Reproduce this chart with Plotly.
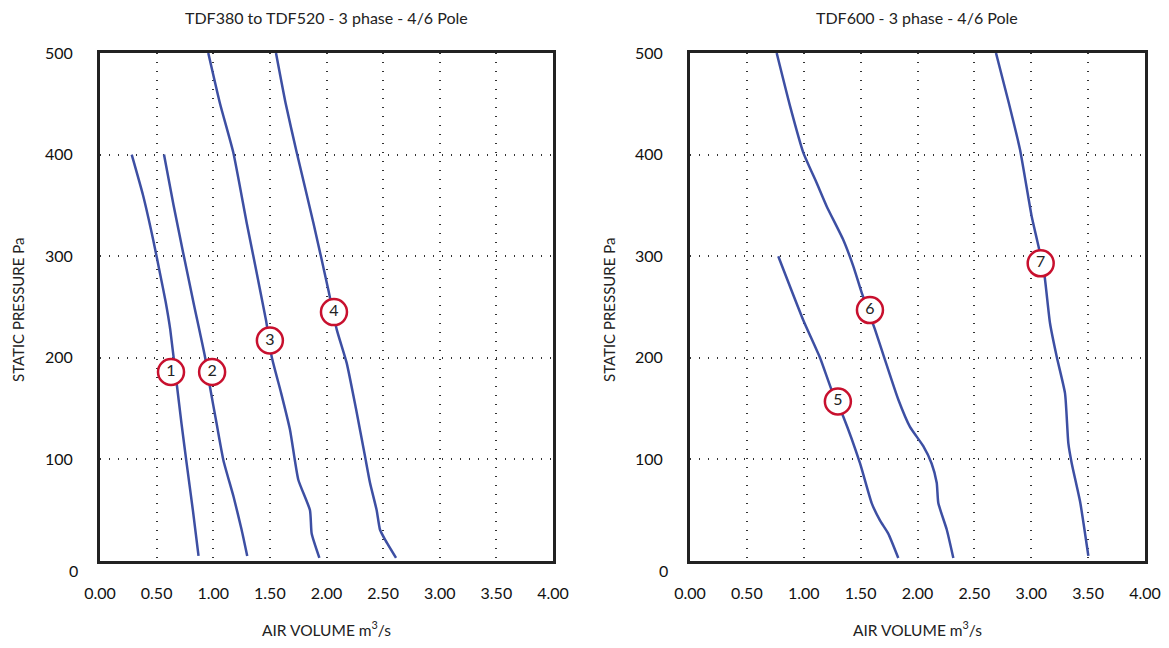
import plotly.graph_objects as go

# ---- data ----
x_ticks = [0, 0.5, 1.0, 1.5, 2.0, 2.5, 3.0, 3.5, 4.0]
x_tick_labels = ["0.00", "0.50", "1.00", "1.50", "2.00", "2.50", "3.00", "3.50", "4.00"]
y_ticks = [100, 200, 300, 400, 500]
y_tick_labels = ["100", "200", "300", "400", "500"]

# Left chart: TDF380 to TDF520
c1_x = [0.28, 0.38, 0.47, 0.53, 0.58, 0.62, 0.68, 0.72, 0.765, 0.82, 0.87]
c1_y = [400, 360, 316, 283, 255, 228, 172, 135, 96, 50, 5]

c2_x = [0.565, 0.65, 0.735, 0.83, 0.927, 0.97, 1.03, 1.09, 1.18, 1.25, 1.30]
c2_y = [400, 350, 303, 252, 201, 172, 135, 99, 63, 31, 5]

c3_x = [0.956, 1.06, 1.177, 1.295, 1.466, 1.516, 1.60, 1.678, 1.751, 1.854, 1.869, 1.937]
c3_y = [500, 450, 402, 333, 237, 201, 165, 129, 80, 50, 27, 3]

c4_x = [1.554, 1.64, 1.737, 1.884, 2.016, 2.09, 2.178, 2.26, 2.34, 2.384, 2.443, 2.472, 2.517, 2.614]
c4_y = [500, 450, 402, 333, 267, 228, 195, 150, 103, 77, 50, 31, 21, 3]

left_label_x = [0.627, 0.99, 1.5, 2.066]
left_label_y = [186, 186, 217, 245]
left_label_text = ["1", "2", "3", "4"]

# Right chart: TDF600
c5_x = [0.776, 0.996, 1.143, 1.246, 1.348, 1.495, 1.597, 1.67, 1.743, 1.831]
c5_y = [300, 237, 200, 168, 142, 96, 57, 40, 27, 3]

c6_x = [0.762, 0.879, 0.996, 1.114, 1.202, 1.348, 1.436, 1.51, 1.626, 1.714, 1.831, 1.934, 2.051, 2.124, 2.169, 2.183, 2.257, 2.315]
c6_y = [500, 448, 402, 372, 349, 316, 290, 264, 228, 198, 159, 132, 113, 96, 77, 57, 31, 3]

c7_x = [2.69, 2.80, 2.901, 3.004, 3.053, 3.112, 3.165, 3.224, 3.297, 3.326, 3.356, 3.43, 3.502]
c7_y = [500, 452, 405, 339, 315, 285, 234, 201, 165, 116, 96, 58, 5]

right_label_x = [1.30, 1.582, 3.083]
right_label_y = [157, 247, 293]
right_label_text = ["5", "6", "7"]

titles = ["TDF380 to TDF520 - 3 phase - 4/6 Pole", "TDF600 - 3 phase - 4/6 Pole"]
x_title = "AIR VOLUME m<sup>3</sup>/s"
y_title = "STATIC PRESSURE Pa"

# ---- styling ----
FONT = "Lato, 'Noto Sans', sans-serif"
BLUE = "#3d4fa3"
RED = "#c8102e"
BORDER = "#222222"

fig = go.Figure()

def add_curve(x, y, xa, ya):
    fig.add_trace(go.Scatter(x=x, y=y, mode="lines", xaxis=xa, yaxis=ya,
                             line=dict(color=BLUE, width=2.5, shape="spline", smoothing=0.5),
                             hoverinfo="skip", showlegend=False))

for cx, cy in [(c1_x, c1_y), (c2_x, c2_y), (c3_x, c3_y), (c4_x, c4_y)]:
    add_curve(cx, cy, "x", "y")
for cx, cy in [(c5_x, c5_y), (c6_x, c6_y), (c7_x, c7_y)]:
    add_curve(cx, cy, "x2", "y2")

def add_labels(lx, ly, lt, xa, ya):
    fig.add_trace(go.Scatter(x=lx, y=ly, text=lt, mode="markers+text", xaxis=xa, yaxis=ya,
                             textposition="middle center",
                             textfont=dict(family=FONT, size=16, color="#222"),
                             marker=dict(symbol="circle", size=26, color="white",
                                         line=dict(color=RED, width=2.5)),
                             hoverinfo="skip", showlegend=False))

add_labels(left_label_x, left_label_y, left_label_text, "x", "y")
add_labels(right_label_x, right_label_y, right_label_text, "x2", "y2")

# the page's body has an 8px margin; figure sized so it fits the window
OFF = 8
W, H = 1169 - 2 * OFF, 648 - 2 * OFF

def px_x(p):
    return (p - OFF) / W

def px_y(p):
    return 1 - (p - OFF) / H

ydom = [px_y(561), px_y(53)]
xdom1 = [px_x(100), px_x(553)]
xdom2 = [px_x(690), px_x(1145)]

common_x = dict(range=[0, 4], tickvals=x_ticks, ticktext=x_tick_labels,
                showgrid=True, gridcolor="#333", griddash="1px,8px", gridwidth=1.5,
                showline=True, linecolor=BORDER, linewidth=3, mirror=True,
                ticks="outside", ticklen=16, tickcolor="rgba(0,0,0,0)",
                tickfont=dict(family=FONT, size=16, color="#111"),
                zeroline=False, fixedrange=True, automargin=False)
common_y = dict(range=[0, 500], tickvals=y_ticks, ticktext=y_tick_labels,
                showgrid=True, gridcolor="#333", griddash="1px,8px", gridwidth=1.5,
                showline=True, linecolor=BORDER, linewidth=3, mirror=True,
                ticks="outside", ticklen=21, tickcolor="rgba(0,0,0,0)",
                tickfont=dict(family=FONT, size=16, color="#111"),
                zeroline=False, fixedrange=True, domain=ydom, automargin=False)

fig.update_layout(
    width=W, height=H,
    margin=dict(l=0, r=0, t=0, b=0),
    paper_bgcolor="white", plot_bgcolor="white",
    xaxis=dict(common_x, domain=xdom1, anchor="y"),
    yaxis=dict(common_y, anchor="x"),
    xaxis2=dict(common_x, domain=xdom2, anchor="y2"),
    yaxis2=dict(common_y, anchor="x2"),
)

ann = []
for title, xd in [(titles[0], xdom1), (titles[1], xdom2)]:
    cx = (xd[0] + xd[1]) / 2
    ann.append(dict(text=title, x=cx, y=px_y(18), xref="paper", yref="paper",
                    showarrow=False, font=dict(family=FONT, size=16, color="#222"),
                    xanchor="center", yanchor="middle"))
    ann.append(dict(text=x_title, x=cx, y=px_y(628), xref="paper", yref="paper",
                    showarrow=False, font=dict(family=FONT, size=15.5, color="#222"),
                    xanchor="center", yanchor="middle"))
for xpx in [18, 609]:
    ann.append(dict(text=y_title, x=px_x(xpx), y=px_y(310), xref="paper", yref="paper",
                    showarrow=False, textangle=-90,
                    font=dict(family=FONT, size=15, color="#222"),
                    xanchor="center", yanchor="middle"))
# zero label on the y axes (sits slightly below the axis corner)
for xa, ya in [("x", "y"), ("x2", "y2")]:
    ann.append(dict(text="0", x=0, y=0, xref=xa + " domain", yref=ya,
                    showarrow=False, xshift=-27, yshift=-9,
                    font=dict(family=FONT, size=16, color="#111"),
                    xanchor="center", yanchor="middle"))
fig.update_layout(annotations=ann)

fig.write_html("out.html")
